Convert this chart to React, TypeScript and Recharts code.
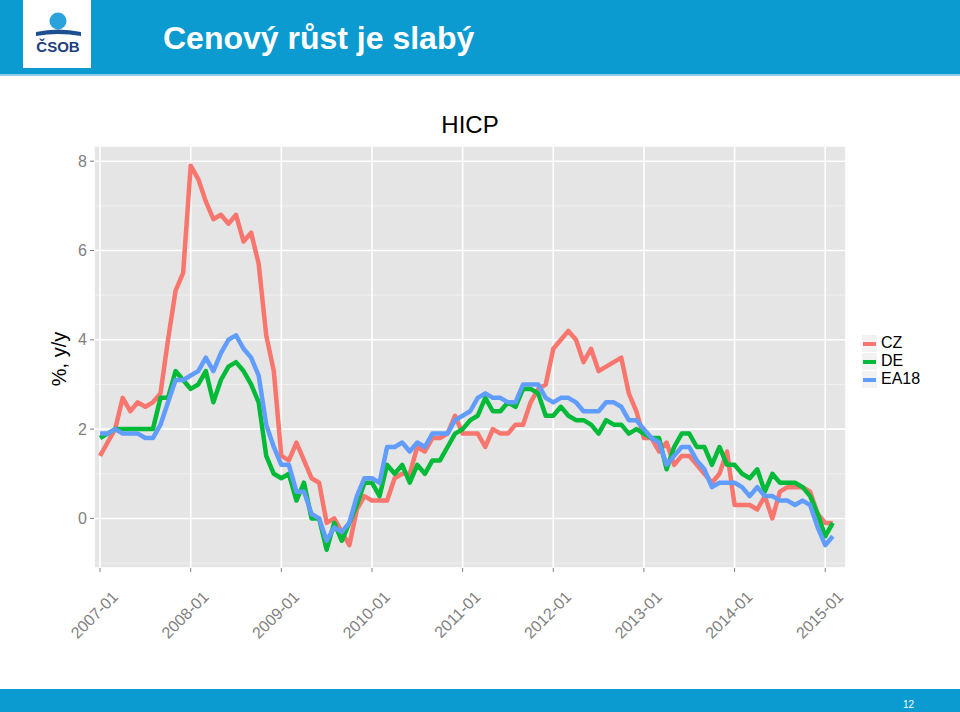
import { CartesianGrid, Line, LineChart, XAxis, YAxis } from "recharts";

const FONT = '"Liberation Sans", Arial, sans-serif';
const BLUE = "#0b9bd1";
const GREY_TEXT = "#7f7f7f";

// monthly HICP y/y, 2007-01 .. 2015-02
const CZ = [
  1.4, 1.7, 2.0, 2.7, 2.4, 2.6, 2.5, 2.6, 2.8, 4.0, 5.1, 5.5,
  7.9, 7.6, 7.1, 6.7, 6.8, 6.6, 6.8, 6.2, 6.4, 5.7, 4.1, 3.3,
  1.4, 1.3, 1.7, 1.3, 0.9, 0.8, -0.1, 0.0, -0.3, -0.6, 0.2, 0.5,
  0.4, 0.4, 0.4, 0.9, 1.0, 1.0, 1.6, 1.5, 1.8, 1.8, 1.9, 2.3,
  1.9, 1.9, 1.9, 1.6, 2.0, 1.9, 1.9, 2.1, 2.1, 2.6, 2.9, 3.0,
  3.8, 4.0, 4.2, 4.0, 3.5, 3.8, 3.3, 3.4, 3.5, 3.6, 2.8, 2.4,
  1.8, 1.8, 1.5, 1.7, 1.2, 1.4, 1.4, 1.2, 1.0, 0.8, 1.0, 1.5,
  0.3, 0.3, 0.3, 0.2, 0.5, 0.0, 0.6, 0.7, 0.7, 0.7, 0.6, 0.1,
  -0.1, -0.1,
];

const DE = [
  1.8, 1.9, 2.0, 2.0, 2.0, 2.0, 2.0, 2.0, 2.7, 2.7, 3.3, 3.1,
  2.9, 3.0, 3.3, 2.6, 3.1, 3.4, 3.5, 3.3, 3.0, 2.6, 1.4, 1.0,
  0.9, 1.0, 0.4, 0.8, 0.0, 0.0, -0.7, -0.1, -0.5, -0.1, 0.3, 0.8,
  0.8, 0.5, 1.2, 1.0, 1.2, 0.8, 1.2, 1.0, 1.3, 1.3, 1.6, 1.9,
  2.0, 2.2, 2.3, 2.7, 2.4, 2.4, 2.6, 2.5, 2.9, 2.9, 2.8, 2.3,
  2.3, 2.5, 2.3, 2.2, 2.2, 2.1, 1.9, 2.2, 2.1, 2.1, 1.9, 2.0,
  1.9, 1.8, 1.8, 1.1, 1.6, 1.9, 1.9, 1.6, 1.6, 1.2, 1.6, 1.2,
  1.2, 1.0, 0.9, 1.1, 0.6, 1.0, 0.8, 0.8, 0.8, 0.7, 0.5, 0.1,
  -0.4, -0.1,
];

const EA18 = [
  1.9, 1.9, 2.0, 1.9, 1.9, 1.9, 1.8, 1.8, 2.1, 2.6, 3.1, 3.1,
  3.2, 3.3, 3.6, 3.3, 3.7, 4.0, 4.1, 3.8, 3.6, 3.2, 2.1, 1.6,
  1.2, 1.2, 0.6, 0.6, 0.1, 0.0, -0.5, -0.2, -0.3, -0.1, 0.5, 0.9,
  0.9, 0.8, 1.6, 1.6, 1.7, 1.5, 1.7, 1.6, 1.9, 1.9, 1.9, 2.2,
  2.3, 2.4, 2.7, 2.8, 2.7, 2.7, 2.6, 2.6, 3.0, 3.0, 3.0, 2.7,
  2.6, 2.7, 2.7, 2.6, 2.4, 2.4, 2.4, 2.6, 2.6, 2.5, 2.2, 2.2,
  2.0, 1.8, 1.7, 1.2, 1.4, 1.6, 1.6, 1.3, 1.1, 0.7, 0.8, 0.8,
  0.8, 0.7, 0.5, 0.7, 0.5, 0.5, 0.4, 0.4, 0.3, 0.4, 0.3, -0.2,
  -0.6, -0.4,
];

const YEAR_LABELS = [
  "2007-01", "2008-01", "2009-01", "2010-01", "2011-01",
  "2012-01", "2013-01", "2014-01", "2015-01",
];
const X_TICKS = YEAR_LABELS.map((_, i) => i * 12);
const Y_TICKS = [0, 2, 4, 6, 8];
const Y_MINOR = [-1, 1, 3, 5, 7];

const SERIES = [
  { key: "CZ", color: "#F8766D" },
  { key: "DE", color: "#00BA38" },
  { key: "EA18", color: "#619CFF" },
];

const data = CZ.map((v, i) => ({ i, CZ: v, DE: DE[i], EA18: EA18[i] }));

function XTick({ x, y, payload }: any) {
  const label = YEAR_LABELS[Math.round(payload.value / 12)];
  const ax = x + 19;
  const ay = y + 24;
  return (
    <text
      x={ax}
      y={ay}
      transform={`rotate(-45 ${ax} ${ay})`}
      textAnchor="end"
      fill={GREY_TEXT}
      fontSize={16}
      fontFamily={FONT}
    >
      {label}
    </text>
  );
}

function Logo() {
  return (
    <div
      style={{
        position: "absolute",
        left: 23,
        top: 0,
        width: 68,
        height: 68,
        background: "#fff",
      }}
    >
      <svg width={68} height={68}>
        <circle cx={35} cy={21} r={8.5} fill="#2aa3dc" />
        <path d="M13 32 Q35 27 58 32 L58 36 Q35 32 13 36 Z" fill="#1d4f91" />
        <text
          x={35}
          y={52}
          textAnchor="middle"
          fontFamily={FONT}
          fontWeight="bold"
          fontSize={15}
          fill="#1d3f7c"
        >
          ČSOB
        </text>
      </svg>
    </div>
  );
}

export default function App() {
  return (
    <div
      style={{
        position: "absolute",
        left: 0,
        top: 0,
        width: 960,
        height: 712,
        background: "#fff",
        fontFamily: FONT,
        overflow: "hidden",
      }}
    >
      <div
        style={{
          position: "absolute",
          left: 0,
          top: 0,
          width: 960,
          height: 74,
          background: BLUE,
          borderBottom: "2px solid #8fcbe8",
        }}
      />
      <Logo />
      <div
        style={{
          position: "absolute",
          left: 163,
          top: 20,
          color: "#fff",
          fontWeight: "bold",
          fontSize: 32,
          lineHeight: "36px",
          whiteSpace: "nowrap",
        }}
      >
        Cenový růst je slabý
      </div>

      <div
        style={{
          position: "absolute",
          left: 370,
          top: 113,
          width: 200,
          textAlign: "center",
          fontSize: 24,
          lineHeight: "24px",
          color: "#000",
        }}
      >
        HICP
      </div>
      <div
        style={{
          position: "absolute",
          left: 9,
          top: 349,
          width: 100,
          textAlign: "center",
          fontSize: 20,
          lineHeight: "20px",
          color: "#000",
          transform: "rotate(-90deg)",
        }}
      >
        %, y/y
      </div>

      <div style={{ position: "absolute", left: 0, top: 0 }}>
        <LineChart
          width={960}
          height={712}
          data={data}
          margin={{ top: 146, right: 114, bottom: 84, left: 44 }}
        >
          <CartesianGrid
            fill="#E5E5E5"
            stroke="#F2F2F2"
            strokeWidth={0.8}
            vertical={false}
            horizontalValues={Y_MINOR}
          />
          <CartesianGrid stroke="#FFFFFF" strokeWidth={1.6} />
          <XAxis
            type="number"
            dataKey="i"
            domain={[-0.8, 98.75]}
            ticks={X_TICKS}
            allowDataOverflow
            axisLine={false}
            tickLine={{ stroke: GREY_TEXT }}
            tickSize={4}
            tickMargin={2}
            height={60}
            interval={0}
            tick={<XTick />}
          />
          <YAxis
            type="number"
            domain={[-1.11, 8.34]}
            ticks={Y_TICKS}
            allowDataOverflow
            axisLine={false}
            tickLine={{ stroke: GREY_TEXT }}
            tickSize={4}
            tickMargin={3}
            width={50}
            tick={{ fill: GREY_TEXT, fontSize: 16, fontFamily: FONT }}
          />
          {SERIES.map((s) => (
            <Line
              key={s.key}
              type="linear"
              dataKey={s.key}
              stroke={s.color}
              strokeWidth={4.5}
              strokeLinejoin="round"
              dot={false}
              activeDot={false}
              isAnimationActive={false}
            />
          ))}
        </LineChart>
      </div>

      <div style={{ position: "absolute", left: 862, top: 334 }}>
        {SERIES.map((s) => (
          <div
            key={s.key}
            style={{ display: "flex", alignItems: "center", height: 18 }}
          >
            <div
              style={{
                width: 15,
                height: 17,
                background: "#F2F2F2",
                position: "relative",
              }}
            >
              <div
                style={{
                  position: "absolute",
                  left: 1,
                  right: 1,
                  top: 7,
                  height: 4,
                  background: s.color,
                }}
              />
            </div>
            <span
              style={{
                marginLeft: 4,
                fontSize: 16,
                lineHeight: "18px",
                color: "#000",
              }}
            >
              {s.key}
            </span>
          </div>
        ))}
      </div>

      <div
        style={{
          position: "absolute",
          left: 0,
          top: 689,
          width: 960,
          height: 23,
          background: BLUE,
        }}
      />
      <div
        style={{
          position: "absolute",
          left: 903,
          top: 699,
          fontSize: 10,
          color: "#fff",
        }}
      >
        12
      </div>
    </div>
  );
}
